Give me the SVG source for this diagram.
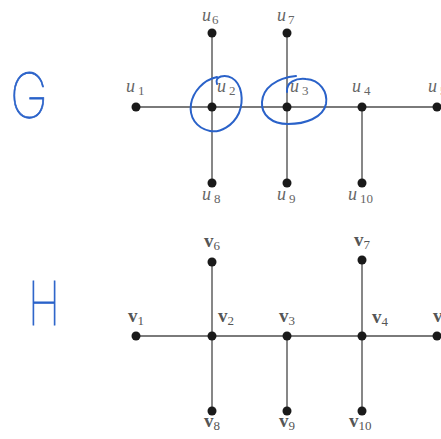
<svg xmlns="http://www.w3.org/2000/svg" width="441" height="439" viewBox="0 0 441 439">
<style>
.e{stroke:#7a7a7a;stroke-width:1.8;fill:none}
.n{fill:#1a1a1a}
.u{font-family:"Liberation Serif",serif;font-style:italic;font-size:18px;fill:#666}
.v{font-family:"Liberation Serif",serif;font-weight:bold;font-size:19px;fill:#555}
.s{font-style:normal;font-weight:normal;font-size:13px}
.ink{stroke:#2a62c9;stroke-width:2;fill:none;stroke-linecap:round}
.hw{font-family:Inter,"Open Sans",sans-serif;font-weight:100;fill:#2a62c9;stroke:#2a62c9;stroke-width:0.8}
</style>
<rect width="441" height="439" fill="#fff"/>
<g id="edges">
<line class="e" x1="136" y1="107" x2="441" y2="107"/>
<line class="e" x1="212" y1="33" x2="212" y2="183"/>
<line class="e" x1="287" y1="33" x2="287" y2="183"/>
<line class="e" x1="362" y1="107" x2="362" y2="183"/>
<line class="e" x1="136" y1="336" x2="441" y2="336"/>
<line class="e" x1="212" y1="262" x2="212" y2="411"/>
<line class="e" x1="287" y1="336" x2="287" y2="411"/>
<line class="e" x1="362" y1="261" x2="362" y2="411"/>
</g>
<g id="u1"><circle class="n" cx="136" cy="107" r="4.5"/><text class="u" x="126" y="92">u<tspan class="s" dx="3" dy="3">1</tspan></text></g>
<g id="u2"><circle class="n" cx="212" cy="107" r="4.5"/><text class="u" x="217" y="92">u<tspan class="s" dx="3" dy="3">2</tspan></text></g>
<g id="u3"><circle class="n" cx="287" cy="107" r="4.5"/><text class="u" x="290" y="92">u<tspan class="s" dx="3" dy="3">3</tspan></text></g>
<g id="u4"><circle class="n" cx="362" cy="107" r="4.5"/><text class="u" x="352" y="92">u<tspan class="s" dx="3" dy="3">4</tspan></text></g>
<g id="u5"><circle class="n" cx="437" cy="107" r="4.5"/><text class="u" x="428" y="92">u<tspan class="s" dx="3" dy="3">5</tspan></text></g>
<g id="u6"><circle class="n" cx="212" cy="33" r="4.5"/><text class="u" x="202" y="21">u<tspan class="s" dx="1" dy="3">6</tspan></text></g>
<g id="u7"><circle class="n" cx="287" cy="33" r="4.5"/><text class="u" x="277" y="21">u<tspan class="s" dx="2" dy="3">7</tspan></text></g>
<g id="u8"><circle class="n" cx="212" cy="183" r="4.5"/><text class="u" x="202" y="200">u<tspan class="s" dx="3" dy="3">8</tspan></text></g>
<g id="u9"><circle class="n" cx="287" cy="183" r="4.5"/><text class="u" x="277" y="200">u<tspan class="s" dx="3" dy="3">9</tspan></text></g>
<g id="u10"><circle class="n" cx="362" cy="183" r="4.5"/><text class="u" x="348" y="200">u<tspan class="s" dx="3" dy="3">10</tspan></text></g>
<g id="v1"><circle class="n" cx="136" cy="336" r="4.5"/><text class="v" x="128" y="322">v<tspan class="s" dy="3">1</tspan></text></g>
<g id="v2"><circle class="n" cx="212" cy="336" r="4.5"/><text class="v" x="218" y="322">v<tspan class="s" dy="3">2</tspan></text></g>
<g id="v3"><circle class="n" cx="287" cy="336" r="4.5"/><text class="v" x="279" y="322">v<tspan class="s" dy="3">3</tspan></text></g>
<g id="v4"><circle class="n" cx="362" cy="336" r="4.5"/><text class="v" x="372" y="323">v<tspan class="s" dy="3">4</tspan></text></g>
<g id="v5"><circle class="n" cx="437" cy="336" r="4.5"/><text class="v" x="433" y="322">v<tspan class="s" dy="3">5</tspan></text></g>
<g id="v6"><circle class="n" cx="212" cy="262" r="4.5"/><text class="v" x="204" y="247">v<tspan class="s" dy="3">6</tspan></text></g>
<g id="v7"><circle class="n" cx="362" cy="260" r="4.5"/><text class="v" x="354" y="246">v<tspan class="s" dy="3">7</tspan></text></g>
<g id="v8"><circle class="n" cx="212" cy="411" r="4.5"/><text class="v" x="204" y="427">v<tspan class="s" dy="3">8</tspan></text></g>
<g id="v9"><circle class="n" cx="287" cy="411" r="4.5"/><text class="v" x="279" y="427">v<tspan class="s" dy="3">9</tspan></text></g>
<g id="v10"><circle class="n" cx="362" cy="411" r="4.5"/><text class="v" x="349" y="427">v<tspan class="s" dy="3">10</tspan></text></g>
<g id="annotations">
<text class="hw" x="10" y="118" font-size="62" textLength="38" lengthAdjust="spacingAndGlyphs">G</text>
<text class="hw" x="28" y="325" font-size="60" textLength="32" lengthAdjust="spacingAndGlyphs">H</text>
<path class="ink" d="M217 84 C214 76,225 74,232 78 C242 84,244 100,239 113 C233 126,220 133,210 131 C196 128,189 117,191 104 C193 92,203 80,217 77"/>
<path class="ink" d="M287 92 C286 82,296 78,306 79 C320 80,328 92,326 104 C323 118,305 124,288 124 C272 124,261 115,262 102 C263 88,276 78,296 76"/>
</g>
</svg>
